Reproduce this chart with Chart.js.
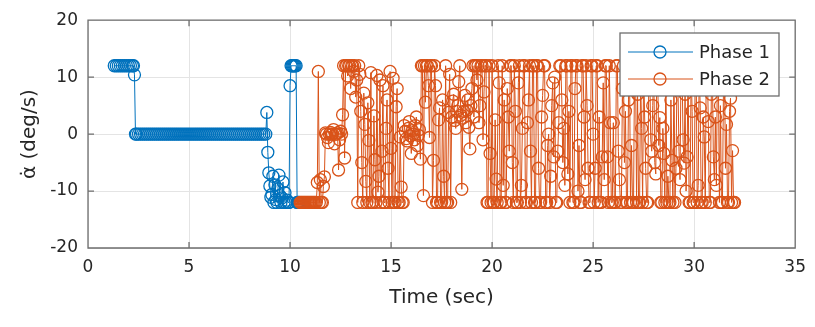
<!DOCTYPE html>
<html>
<head>
<meta charset="utf-8">
<script src="https://cdn.jsdelivr.net/npm/chart.js@4.4.1/dist/chart.umd.min.js"></script>
<style>
  html, body { margin: 0; padding: 0; background: #fff; }
  #wrap { width: 815px; height: 327px; }
</style>
</head>
<body>
<div id="wrap"><canvas id="rate" width="815" height="327"></canvas></div>
<script>
// Phase 1: angular rate samples (s, deg/s)
const phase1Time = [
  1.3, 1.4, 1.5, 1.6, 1.7, 1.8, 1.9, 2.0, 2.1, 2.2, 2.25, 2.3, 2.35,
  2.4, 2.5, 2.6, 2.7, 2.8, 2.9, 3.0, 3.1, 3.2, 3.3, 3.4, 3.5, 3.6, 3.7, 3.8, 3.9,
  4.0, 4.1, 4.2, 4.3, 4.4, 4.5, 4.6, 4.7, 4.8, 4.9, 5.0, 5.1, 5.2, 5.3, 5.4, 5.5,
  5.6, 5.7, 5.8, 5.9, 6.0, 6.1, 6.2, 6.3, 6.4, 6.5, 6.6, 6.7, 6.8, 6.9, 7.0, 7.1,
  7.2, 7.3, 7.4, 7.5, 7.6, 7.7, 7.8, 7.9, 8.0, 8.1, 8.2, 8.3, 8.4, 8.5, 8.6, 8.7, 8.8,
  8.85, 8.9, 8.95, 9.0, 9.05, 9.1, 9.15, 9.2, 9.25, 9.3, 9.35, 9.4, 9.45, 9.5, 9.55,
  9.6, 9.65, 9.7, 9.75, 9.8, 9.85, 9.9, 9.95, 10.0, 10.05, 10.1, 10.15, 10.2, 10.25,
  10.3, 10.35, 10.4, 10.45
];
const phase1Rate = [
  12, 12, 12, 12, 12, 12, 12, 12, 12, 12, 12, 10.4, 0,
  0, 0, 0, 0, 0, 0, 0, 0, 0, 0, 0, 0, 0, 0, 0, 0,
  0, 0, 0, 0, 0, 0, 0, 0, 0, 0, 0, 0, 0, 0, 0, 0,
  0, 0, 0, 0, 0, 0, 0, 0, 0, 0, 0, 0, 0, 0, 0, 0,
  0, 0, 0, 0, 0, 0, 0, 0, 0, 0, 0, 0, 0, 0, 0, 0, 0,
  3.8, -3.2, -6.8, -9.1, -11.1, -10.6, -7.4, -12, -8.9, -11.5, -12, -9.6, -7.2, -10.8, -12,
  -11.2, -8.4, -12, -10.3, -12, -11.6, -12, -12, 8.5, 12, 12, 12, 12, 12,
  12, -12, -12, -12
];

// Phase 2: angular rate samples (s, deg/s), one row per half second
const phase2Time = [
  10.5, 10.55, 10.6, 10.65, 10.7, 10.75, 10.8, 10.85, 10.9, 10.95,
  11.0, 11.05, 11.1, 11.15, 11.2, 11.25, 11.3, 11.35, 11.4, 11.45,
  11.5, 11.55, 11.6, 11.65, 11.7, 11.75, 11.8, 11.85, 11.9, 11.95,
  12.0, 12.05, 12.1, 12.15, 12.2, 12.25, 12.3, 12.35, 12.4, 12.45,
  12.5, 12.55, 12.6, 12.65, 12.7, 12.75, 12.8, 12.85, 12.9, 12.95,
  13.0, 13.05, 13.1, 13.15, 13.2, 13.25, 13.3, 13.35, 13.4, 13.45,
  13.5, 13.55, 13.6, 13.65, 13.7, 13.75, 13.8, 13.85, 13.9, 13.95,
  14.0, 14.05, 14.1, 14.15, 14.2, 14.25, 14.3, 14.35, 14.4, 14.45,
  14.5, 14.55, 14.6, 14.65, 14.7, 14.75, 14.8, 14.85, 14.9, 14.95,
  15.0, 15.05, 15.1, 15.15, 15.2, 15.25, 15.3, 15.35, 15.4, 15.45,
  15.5, 15.55, 15.6, 15.65, 15.7, 15.75, 15.8, 15.85, 15.9, 15.95,
  16.0, 16.05, 16.1, 16.15, 16.2, 16.25, 16.3, 16.35, 16.4, 16.45,
  16.5, 16.55, 16.6, 16.65, 16.7, 16.75, 16.8, 16.85, 16.9, 16.95,
  17.0, 17.05, 17.1, 17.15, 17.2, 17.25, 17.3, 17.35, 17.4, 17.45,
  17.5, 17.55, 17.6, 17.65, 17.7, 17.75, 17.8, 17.85, 17.9, 17.95,
  18.0, 18.05, 18.1, 18.15, 18.2, 18.25, 18.3, 18.35, 18.4, 18.45,
  18.5, 18.55, 18.6, 18.65, 18.7, 18.75, 18.8, 18.85, 18.9, 18.95,
  19.0, 19.05, 19.1, 19.15, 19.2, 19.25, 19.3, 19.35, 19.4, 19.45,
  19.5, 19.55, 19.6, 19.65, 19.7, 19.75, 19.8, 19.85, 19.9, 19.95,
  20.0, 20.05, 20.1, 20.15, 20.2, 20.25, 20.3, 20.35, 20.4, 20.45,
  20.5, 20.55, 20.6, 20.65, 20.7, 20.75, 20.8, 20.85, 20.9, 20.95,
  21.0, 21.05, 21.1, 21.15, 21.2, 21.25, 21.3, 21.35, 21.4, 21.45,
  21.5, 21.55, 21.6, 21.65, 21.7, 21.75, 21.8, 21.85, 21.9, 21.95,
  22.0, 22.05, 22.1, 22.15, 22.2, 22.25, 22.3, 22.35, 22.4, 22.45,
  22.5, 22.55, 22.6, 22.65, 22.7, 22.75, 22.8, 22.85, 22.9, 22.95,
  23.0, 23.05, 23.1, 23.15, 23.2, 23.25, 23.3, 23.35, 23.4, 23.45,
  23.5, 23.55, 23.6, 23.65, 23.7, 23.75, 23.8, 23.85, 23.9, 23.95,
  24.0, 24.05, 24.1, 24.15, 24.2, 24.25, 24.3, 24.35, 24.4, 24.45,
  24.5, 24.55, 24.6, 24.65, 24.7, 24.75, 24.8, 24.85, 24.9, 24.95,
  25.0, 25.05, 25.1, 25.15, 25.2, 25.25, 25.3, 25.35, 25.4, 25.45,
  25.5, 25.55, 25.6, 25.65, 25.7, 25.75, 25.8, 25.85, 25.9, 25.95,
  26.0, 26.05, 26.1, 26.15, 26.2, 26.25, 26.3, 26.35, 26.4, 26.45,
  26.5, 26.55, 26.6, 26.65, 26.7, 26.75, 26.8, 26.85, 26.9, 26.95,
  27.0, 27.05, 27.1, 27.15, 27.2, 27.25, 27.3, 27.35, 27.4, 27.45,
  27.5, 27.55, 27.6, 27.65, 27.7, 27.75, 27.8, 27.85, 27.9, 27.95,
  28.0, 28.05, 28.1, 28.15, 28.2, 28.25, 28.3, 28.35, 28.4, 28.45,
  28.5, 28.55, 28.6, 28.65, 28.7, 28.75, 28.8, 28.85, 28.9, 28.95,
  29.0, 29.05, 29.1, 29.15, 29.2, 29.25, 29.3, 29.35, 29.4, 29.45,
  29.5, 29.55, 29.6, 29.65, 29.7, 29.75, 29.8, 29.85, 29.9, 29.95,
  30.0, 30.05, 30.1, 30.15, 30.2, 30.25, 30.3, 30.35, 30.4, 30.45,
  30.5, 30.55, 30.6, 30.65, 30.7, 30.75, 30.8, 30.85, 30.9, 30.95,
  31.0, 31.05, 31.1, 31.15, 31.2, 31.25, 31.3, 31.35, 31.4, 31.45,
  31.5, 31.55, 31.6, 31.65, 31.7, 31.75, 31.8, 31.85, 31.9, 31.95,
  32.0
];
const phase2Rate = [
  -12, -12, -12, -12, -12, -12, -12, -12, -12, -12,
  -12, -12, -12, -12, -12, -12, -12, -8.5, 11, -12,
  -8, -12, -12, -9.2, -7.5, 0.2, 0, -0.6, -1.5, 0,
  0.3, 0, 0, 0.8, -1.7, 0, 0, 0.2, -6.3, -1,
  0.5, 0, 3.4, 12, -4.2, 12, 12, 10.2, 12, 12,
  8, 12, 12, 11, 12, 6.5, 9.5, -12, 12, 10.5,
  4, -5, -12, 7.2, 1.7, -8.3, -12, 5.5, -1.1, -12,
  10.8, -12, -12, 3.2, -4.5, -12, 10.3, -10.2, -7.4, 9.5,
  -12, -3, 8.5, -12, -12, 1, 6, -6, -12, 11,
  -2.5, -12, 9.8, -12, -12, 4.8, 8, -12, -12, -0.5,
  -9.3, -12, -12, 1.5, 0.5, -0.8, -1.2, 1, 2.2, -0.3,
  -3.4, 0.6, 0, -1, 1.5, 3, -2, -0.2, 0.8, -4.4,
  12, 12, -10.8, 12, 5.6, 12, 12, 8.5, -0.6, 12,
  12, -12, -4.6, 12, 8.5, -12, -12, 2.5, 4.6, -12,
  -12, 6, -7.4, -12, 12, -12, -12, 3.8, 10.5, -12,
  3, 5.8, 7, 2.4, 1, 4, 5, 9.2, 12, 3.3,
  -9.7, 2.8, 4, 6.8, 2, 4.2, 6, 1.2, -2.6, 5,
  8, 12, 3, 12, 12, 9.5, 12, 2, 5, 12,
  12, -1, 7.4, 12, 12, -12, -12, 12, -3.4, -12,
  12, -12, -12, 2.5, -7.9, -12, 12, 9, -12, -12,
  12, -9, 6, -12, -12, 8, 3, -3, 12, 12,
  -5, -12, 12, 4, -12, -12, 9, 12, -12, -9,
  1, 12, 12, -12, -12, 2, 6, 12, -3, -12,
  12, 12, -12, -12, 12, 12, -6, -12, -12, 3,
  6.8, 12, 12, -12, -12, -2, 0, -12, -7.4, 5,
  9, -4, 10, -12, -12, -3, 2, 12, 12, 6,
  -5, 1, -9, 12, 12, -7, 4, -12, 12, 12,
  -12, -12, 8, 12, 12, -10, -2, -12, -12, 12,
  12, 3, -8, 12, 5, -6, -12, -12, 12, 12,
  0, -12, -6, 12, 12, -12, 3, -12, -12, -4,
  9, -8, 12, 12, -4, -12, 12, 2, -12, -12,
  2, -12, -12, 12, 12, -3, -8, -12, -12, 8,
  12, -5, 4, -12, -12, 6, 12, -12, -2, -12,
  -12, 12, 12, -12, 7, -12, -12, 10, 1, -12,
  12, 3, -6, -12, -12, 8, 12, -1, -3, 5,
  12, -5, -7, 12, 9, -2, 2.9, -12, -12, 1,
  -3.4, -12, 12, -12, -7.4, -12, -12, 6, -4.6, -12,
  12, -12, -6, 10, 8, -3, -8, 12, 12, -1,
  -5.1, 7, -10, -4, 12, -12, -12, 12, 4, -12,
  -12, 9, 12, -12, -9, 12, 4.6, -12, -12, 3,
  -0.5, -12, 12, 12, 2.2, -12, -12, 7, 12, -4,
  -8, 3, -9, 12, 10, -12, 5, -12, -12, 8,
  12, -6, 1.7, -12, -12, 4, 6.3, -12, -2.9, -12,
  -12
];

const seriesNames = ['Phase 1', 'Phase 2'];
const xTicks = [0, 5, 10, 15, 20, 25, 30, 35];
const yTicks = [-20, -10, 0, 10, 20];

const BLUE = '#0072bd', ORANGE = '#d95319';
const TEXT = '#262626', FRAME = '#6e6e6e', GRID = '#e4e4e4';
const FONT = '"DejaVu Sans", Verdana, sans-serif';

const toPoints = (ts, vs) => ts.map((t, i) => ({ x: t, y: vs[i] }));

// box frame with inward ticks on all four sides, plus the legend
const boxAxes = {
  id: 'boxAxes',
  afterDatasetsDraw(chart) {
    const { ctx, chartArea: a, scales: { x, y } } = chart;
    const L = a.left, R = a.right, T = a.top, B = a.bottom;
    ctx.save();
    ctx.strokeStyle = FRAME; ctx.lineWidth = 1.3;
    ctx.beginPath();
    ctx.rect(L, T, R - L, B - T);
    xTicks.forEach(v => {
      const px = x.getPixelForValue(v);
      ctx.moveTo(px, B); ctx.lineTo(px, B - 6);
      ctx.moveTo(px, T); ctx.lineTo(px, T + 6);
    });
    yTicks.forEach(v => {
      const py = y.getPixelForValue(v);
      ctx.moveTo(L, py); ctx.lineTo(L + 6, py);
      ctx.moveTo(R, py); ctx.lineTo(R - 6, py);
    });
    ctx.stroke();

    // legend
    const lx = 620, ly = 33, lw = 159, lh = 63;
    ctx.fillStyle = '#fff';
    ctx.fillRect(lx, ly, lw, lh);
    ctx.strokeStyle = FRAME; ctx.lineWidth = 1.3;
    ctx.strokeRect(lx, ly, lw, lh);
    [BLUE, ORANGE].forEach((c, i) => {
      const yy = ly + 19 + i * 27;
      ctx.strokeStyle = c; ctx.lineWidth = 1;
      ctx.beginPath(); ctx.moveTo(lx + 8, yy); ctx.lineTo(lx + 73, yy); ctx.stroke();
      ctx.lineWidth = 1.3;
      ctx.beginPath(); ctx.arc(lx + 40, yy, 6, 0, Math.PI * 2); ctx.stroke();
      ctx.fillStyle = TEXT; ctx.font = '18px ' + FONT;
      ctx.textAlign = 'left'; ctx.textBaseline = 'middle';
      ctx.fillText(seriesNames[i], lx + 79, yy + 1);
    });
    ctx.restore();
  }
};

const lineSet = (label, ts, vs, color, order) => ({
  label, data: toPoints(ts, vs), order,
  borderColor: color, borderWidth: 1, tension: 0,
  pointStyle: 'circle', pointRadius: 6, pointBorderWidth: 1.3,
  pointBorderColor: color, pointBackgroundColor: 'rgba(0,0,0,0)'
});

new Chart(document.getElementById('rate'), {
  type: 'line',
  data: {
    datasets: [
      lineSet(seriesNames[0], phase1Time, phase1Rate, BLUE, 1),
      lineSet(seriesNames[1], phase2Time, phase2Rate, ORANGE, 0)
    ]
  },
  options: {
    responsive: false, animation: false, devicePixelRatio: 1,
    layout: { padding: { left: 0, right: 18, top: 13, bottom: 0 } },
    plugins: { legend: { display: false }, tooltip: { enabled: false } },
    scales: {
      x: {
        type: 'linear', min: 0, max: 35,
        afterFit: s => { s.height = 79; },
        afterBuildTicks: s => { s.ticks = xTicks.map(v => ({ value: v })); },
        grid: { color: GRID, drawTicks: false }, border: { display: false },
        ticks: { color: TEXT, padding: 9, font: { family: FONT, size: 17 } },
        title: { display: true, text: 'Time (sec)', color: TEXT, padding: { bottom: 17 }, font: { family: FONT, size: 20 } }
      },
      y: {
        min: -20, max: 20,
        afterFit: s => { s.width = 88; },
        afterBuildTicks: s => { s.ticks = yTicks.map(v => ({ value: v })); },
        grid: { color: GRID, drawTicks: false }, border: { display: false },
        ticks: { color: TEXT, padding: 10, font: { family: FONT, size: 17 } },
        title: { display: true, text: 'α\u0307 (deg/s)', color: TEXT, padding: { top: 18 }, font: { family: FONT, size: 20 } }
      }
    }
  },
  plugins: [boxAxes]
});
</script>
</body>
</html>
